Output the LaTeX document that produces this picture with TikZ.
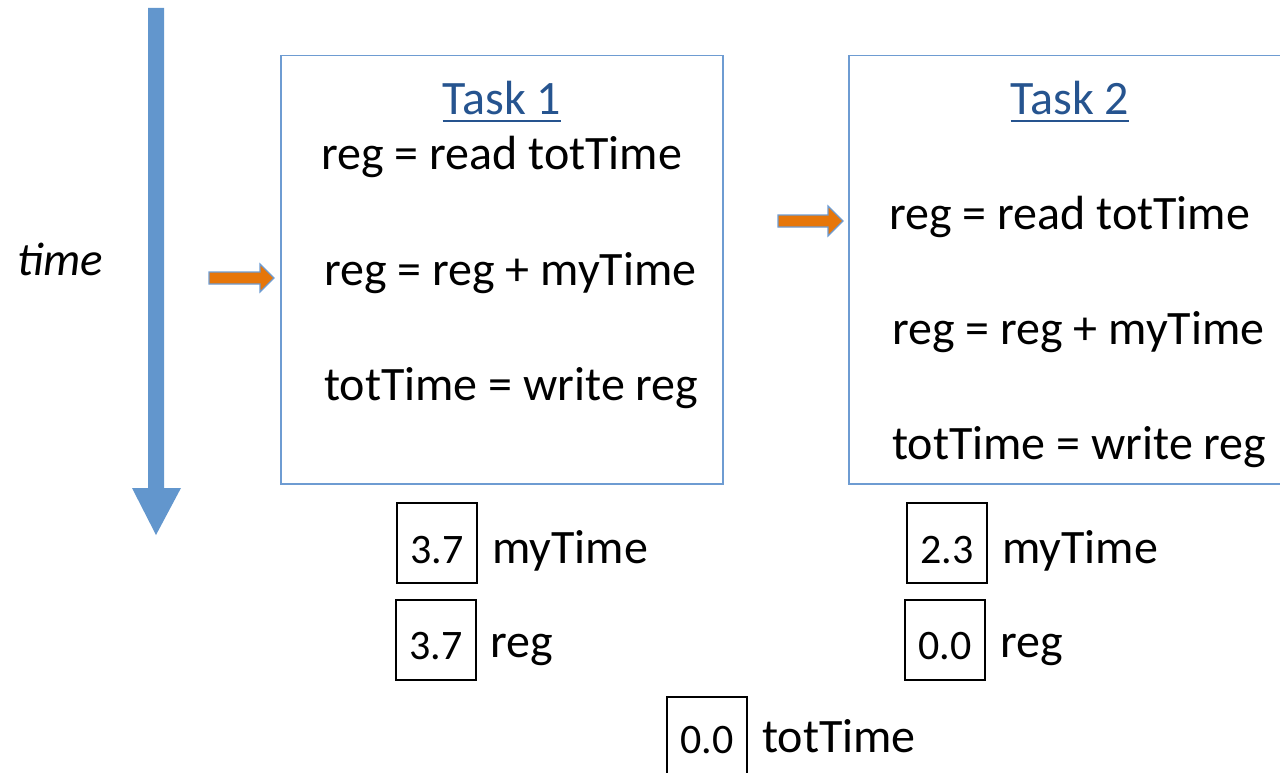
\documentclass[tikz,border=0pt]{standalone}
\usepackage{fontspec}
\setmainfont{Carlito}
\definecolor{timeblue}{RGB}{98,150,205}
\definecolor{boxblue}{RGB}{110,156,210}
\definecolor{titleblue}{RGB}{38,84,143}
\definecolor{ptrorange}{RGB}{230,118,10}
\begin{document}
\begin{tikzpicture}[x=1pt,y=-1pt,
  taskbox/.style={draw=boxblue, line width=1.5pt, anchor=north west, inner sep=0pt},
  txt/.style={anchor=base west, inner sep=0pt, font=\fontsize{48}{57}\selectfont},
  tasktitle/.style={anchor=base, inner sep=0pt, text=titleblue, font=\fontsize{48}{57}\selectfont},
  valbox/.style={draw=black, line width=1.5pt, minimum width=80pt, minimum height=80pt, inner sep=0pt},
  valtxt/.style={anchor=base, inner sep=0pt, font=\fontsize{42}{50}\selectfont},
  ptr/.style={fill=ptrorange, draw=boxblue, line width=1.2pt, line join=miter},
  ulined/.style={titleblue, line width=2.5pt}
]
\useasboundingbox (0,0) rectangle (1280,773);

% time arrow
\fill[timeblue] (148,8) -- (164,8) -- (164,488) -- (181,488) -- (156,535) -- (132,488) -- (148,488) -- cycle;
\node[anchor=base west, inner sep=0pt, font=\fontsize{47}{56}\selectfont\itshape] (time) at (17,275) {time};

% task boxes
\node[taskbox, minimum width=442pt, minimum height=428pt] (box1) at (280,55) {};
\node[taskbox, minimum width=450pt, minimum height=428pt] (box2) at (848,55) {};

% Task 1
\node[tasktitle] (t1) at (502,115) {Task 1};
\draw[ulined] ([yshift=-6pt]t1.base west) -- ([yshift=-6pt]t1.base east);
\node[txt] (t1a) at (321,170) {reg = read totTime};
\node[txt] (t1b) at (324,285) {reg = reg + myTime};
\node[txt] (t1c) at (324,400) {totTime = write reg};

% Task 2
\node[tasktitle] (t2) at (1070,115) {Task 2};
\draw[ulined] ([yshift=-6pt]t2.base west) -- ([yshift=-6pt]t2.base east);
\node[txt] (t2a) at (889,229) {reg = read totTime};
\node[txt] (t2b) at (892,344) {reg = reg + myTime};
\node[txt] (t2c) at (892,459) {totTime = write reg};

% orange pointers
\draw[ptr] (209,272) -- (260,272) -- (260,264) -- (274,278) -- (260,292) -- (260,284) -- (209,284) -- cycle;
\draw[ptr] (778,215) -- (828,215) -- (828,206) -- (843,221) -- (828,236) -- (828,227) -- (778,227) -- cycle;

% values task 1
\node[valbox] (v1) at (437,543) {};
\node[valtxt] (n1) at ([yshift=-20pt]v1.center) {3.7};
\node[txt] (l1) at (492,563) {myTime};
\node[valbox] (v2) at (436,640) {};
\node[valtxt] (n2) at ([yshift=-19pt]v2.center) {3.7};
\node[txt] (l2) at (490,657) {reg};

% values task 2
\node[valbox] (v3) at (947,543) {};
\node[valtxt] (n3) at ([yshift=-20pt]v3.center) {2.3};
\node[txt] (l3) at (1002,563) {myTime};
\node[valbox] (v4) at (945,640) {};
\node[valtxt] (n4) at ([yshift=-19pt]v4.center) {0.0};
\node[txt] (l4) at (1000,657) {reg};

% shared
\node[valbox] (v5) at (707,737) {};
\node[valtxt] (n5) at ([yshift=-16pt]v5.center) {0.0};
\node[txt] (l5) at (762,752) {totTime};
\end{tikzpicture}
\end{document}
